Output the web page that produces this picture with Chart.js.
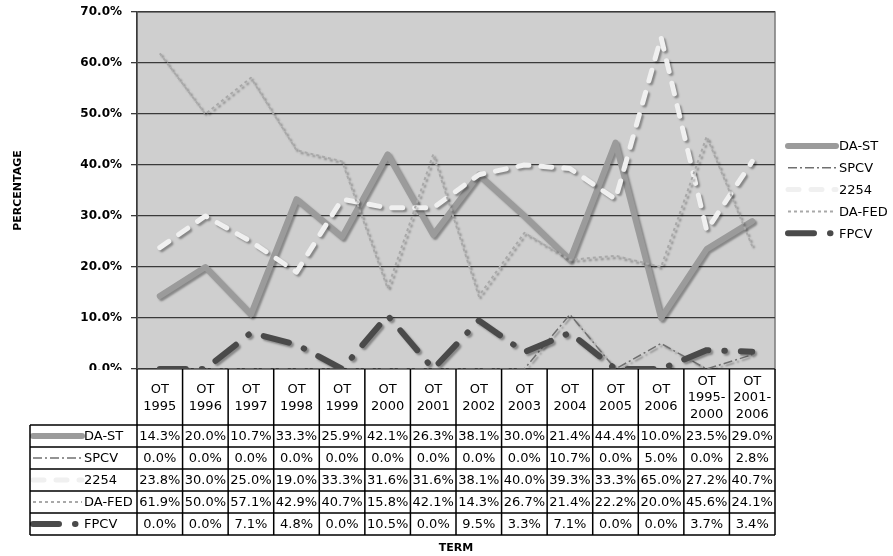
<!DOCTYPE html>
<html>
<head>
<meta charset="utf-8">
<script src="https://cdn.jsdelivr.net/npm/chart.js@4.4.0/dist/chart.umd.min.js"></script>
<style>
  html, body { margin: 0; padding: 0; background: #fff; }
  #wrap { width: 893px; height: 556px; }
</style>
</head>
<body>
<div id="wrap"><canvas id="termChart" width="893" height="556"></canvas></div>
<script>
const terms = [
  ["OT", "1995"], ["OT", "1996"], ["OT", "1997"], ["OT", "1998"], ["OT", "1999"],
  ["OT", "2000"], ["OT", "2001"], ["OT", "2002"], ["OT", "2003"], ["OT", "2004"],
  ["OT", "2005"], ["OT", "2006"], ["OT", "1995-", "2000"], ["OT", "2001-", "2006"]
];
const daSt  = [14.3, 20.0, 10.7, 33.3, 25.9, 42.1, 26.3, 38.1, 30.0, 21.4, 44.4, 10.0, 23.5, 29.0];
const spcv  = [0.0, 0.0, 0.0, 0.0, 0.0, 0.0, 0.0, 0.0, 0.0, 10.7, 0.0, 5.0, 0.0, 2.8];
const s2254 = [23.8, 30.0, 25.0, 19.0, 33.3, 31.6, 31.6, 38.1, 40.0, 39.3, 33.3, 65.0, 27.2, 40.7];
const daFed = [61.9, 50.0, 57.1, 42.9, 40.7, 15.8, 42.1, 14.3, 26.7, 21.4, 22.2, 20.0, 45.6, 24.1];
const fpcv  = [0.0, 0.0, 7.1, 4.8, 0.0, 10.5, 0.0, 9.5, 3.3, 7.1, 0.0, 0.0, 3.7, 3.4];
const yTicks = [0, 10, 20, 30, 40, 50, 60, 70];

const FONT = "'DejaVu Sans', Verdana, sans-serif";

// line looks, shared by the plot, the legend and the table keys
const looks = {
  "DA-ST":  { color: "#9b9b9b", width: 6,   dash: [],              cap: "round" },
  "SPCV":   { color: "#707070", width: 1.5, dash: [9, 3, 2, 3],    cap: "butt" },
  "2254":   { color: "#f0f0f0", width: 5,   dash: [11, 12],        cap: "round" },
  "DA-FED": { color: "#a9a9a9", width: 2,   dash: [3, 3],          cap: "butt" },
  "FPCV":   { color: "#4a4a4a", width: 6,   dash: [26, 16, 0.5, 16], cap: "round" }
};

function makeSet(label, data, order) {
  const l = looks[label];
  return {
    label, data, order,
    borderColor: l.color,
    borderWidth: l.width,
    borderDash: l.dash,
    borderCapStyle: l.cap,
    borderJoinStyle: "round",
    pointRadius: 0,
    tension: 0,
    fill: false
  };
}

const series = [
  makeSet("DA-ST", daSt, 5),
  makeSet("SPCV", spcv, 4),
  makeSet("2254", s2254, 3),
  makeSet("DA-FED", daFed, 2),
  makeSet("FPCV", fpcv, 1)
];

function strokeKey(ctx, name, x1, x2, y) {
  const l = looks[name];
  ctx.save();
  ctx.strokeStyle = l.color;
  ctx.lineWidth = l.width;
  ctx.setLineDash(l.dash);
  ctx.lineCap = l.cap;
  ctx.beginPath();
  ctx.moveTo(x1, y);
  ctx.lineTo(x2, y);
  ctx.stroke();
  ctx.restore();
}

const plotBack = {
  id: "plotBack",
  beforeDraw(chart) {
    const { ctx, chartArea: a } = chart;
    ctx.save();
    ctx.fillStyle = "#cfcfcf";
    ctx.fillRect(a.left, a.top, a.right - a.left, a.bottom - a.top);
    ctx.strokeStyle = "#7a7a7a";
    ctx.lineWidth = 1.5;
    ctx.strokeRect(a.left, a.top, a.right - a.left, a.bottom - a.top);
    ctx.restore();
  }
};

const lineShadow = {
  id: "lineShadow",
  beforeDatasetDraw(chart) {
    const ctx = chart.ctx;
    ctx.save();
    ctx.shadowColor = "rgba(0,0,0,0.35)";
    ctx.shadowOffsetX = 2;
    ctx.shadowOffsetY = 2;
    ctx.shadowBlur = 2;
  },
  afterDatasetDraw(chart) {
    chart.ctx.restore();
  }
};

// data table under the plot + legend + axis title
const dataTable = {
  id: "dataTable",
  beforeDatasetsDraw(chart) {
    const { ctx, chartArea: a } = chart;
    const x = chart.scales.x;
    const colW = (a.right - a.left) / terms.length;
    const headTop = a.bottom, headBot = a.bottom + 56, rowH = 22;
    const tableLeft = 30;
    const tableBot = headBot + rowH * series.length;

    ctx.save();
    ctx.fillStyle = "#fff";
    ctx.fillRect(tableLeft, headTop + 1, a.right - tableLeft, tableBot - headTop);

    ctx.fillStyle = "#000";
    ctx.font = "13px " + FONT;
    ctx.textAlign = "center";
    ctx.textBaseline = "middle";
    terms.forEach((lines, i) => {
      const cx = x.getPixelForValue(i);
      const lh = 16.5;
      const y0 = (headTop + headBot) / 2 - (lines.length - 1) * lh / 2 + 1;
      lines.forEach((t, k) => ctx.fillText(t, cx, y0 + k * lh));
    });

    series.forEach((s, r) => {
      const cy = headBot + rowH * r + rowH / 2;
      ctx.textAlign = "center";
      s.data.forEach((v, i) => {
        ctx.fillText(v.toFixed(1) + "%", x.getPixelForValue(i), cy + 1);
      });
      strokeKey(ctx, s.label, tableLeft + 3, 82, cy);
      ctx.textAlign = "left";
      ctx.fillText(s.label, 84, cy + 1);
    });

    ctx.strokeStyle = "#000";
    ctx.lineWidth = 1.5;
    ctx.setLineDash([]);
    ctx.beginPath();
    for (let k = 0; k <= terms.length; k++) {
      const lx = a.left + k * colW;
      ctx.moveTo(lx, headTop);
      ctx.lineTo(lx, tableBot);
    }
    for (let r = 0; r <= series.length; r++) {
      const ly = headBot + rowH * r;
      ctx.moveTo(tableLeft, ly);
      ctx.lineTo(a.right, ly);
    }
    ctx.moveTo(tableLeft, headBot);
    ctx.lineTo(tableLeft, tableBot);
    ctx.stroke();

    // x axis title
    ctx.font = "bold 11px " + FONT;
    ctx.textAlign = "center";
    ctx.fillText("TERM", (a.left + a.right) / 2, 548);
    ctx.restore();
  },
  afterDraw(chart) {
    const ctx = chart.ctx;
    ctx.save();
    ctx.font = "13px " + FONT;
    ctx.fillStyle = "#000";
    ctx.textAlign = "left";
    ctx.textBaseline = "middle";
    series.forEach((s, r) => {
      const cy = 146 + r * 21.8;
      strokeKey(ctx, s.label, 788, 836, cy);
      ctx.fillText(s.label, 839, cy + 1);
    });
    ctx.restore();
  }
};

new Chart(document.getElementById("termChart"), {
  type: "line",
  data: {
    labels: terms.map(t => t.join(" ")),
    datasets: series
  },
  options: {
    responsive: false,
    animation: false,
    layout: { padding: { left: 0, right: 118, top: 12, bottom: 187 } },
    plugins: {
      legend: { display: false },
      tooltip: { enabled: false }
    },
    scales: {
      x: {
        display: false,
        offset: true
      },
      y: {
        min: 0,
        max: 70,
        afterFit(scale) {
          scale.width = 137;
          scale.paddingTop = 0;
        },
        afterBuildTicks(scale) { scale.ticks = yTicks.map(v => ({ value: v })); },
        ticks: {
          padding: 9,
          color: "#000",
          font: { family: FONT, size: 12, weight: "bold" },
          callback: v => v.toFixed(1) + "%"
        },
        grid: {
          color: "#3a3a3a",
          lineWidth: 1.3,
          tickLength: 6,
          drawTicks: true
        },
        border: { display: true, color: "#3a3a3a", width: 1.5 },
        title: {
          display: true,
          text: "PERCENTAGE",
          color: "#000",
          font: { family: FONT, size: 11, weight: "bold" },
          padding: { top: 12, bottom: 0 }
        }
      }
    }
  },
  plugins: [plotBack, lineShadow, dataTable]
});
</script>
</body>
</html>
